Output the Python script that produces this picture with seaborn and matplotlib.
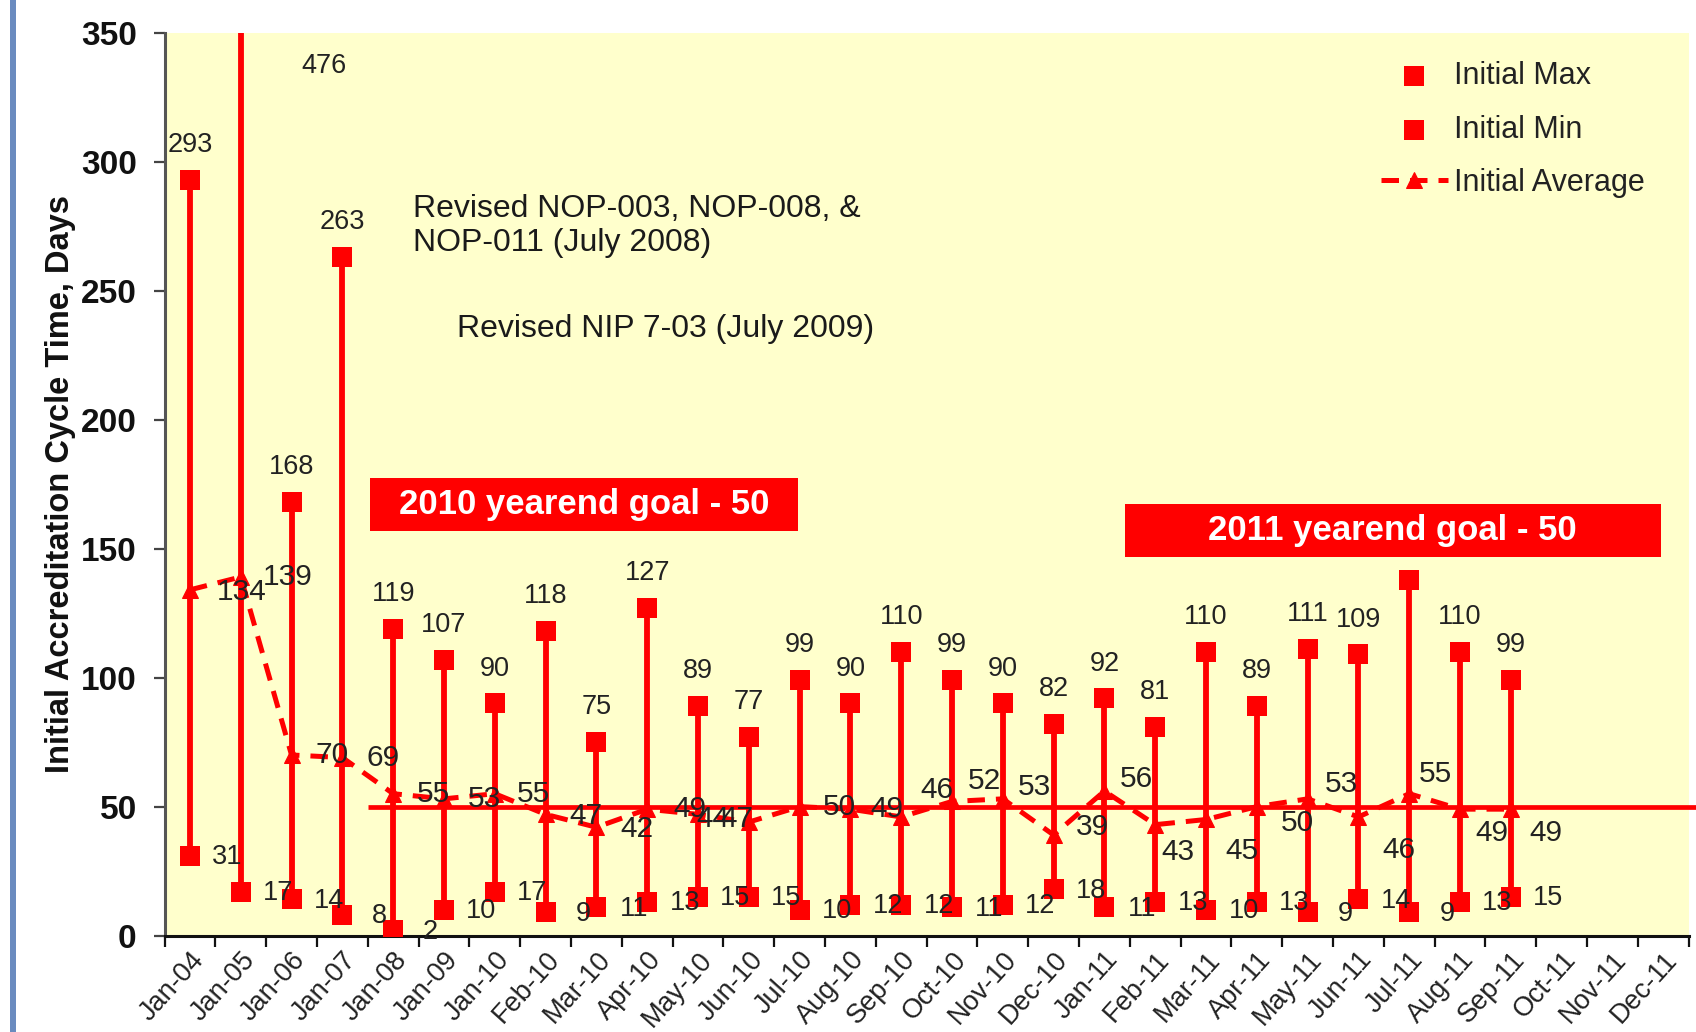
import numpy as np
import pandas as pd
import matplotlib
matplotlib.use("Agg")
import matplotlib.pyplot as plt
from matplotlib.patches import Rectangle
import seaborn as sns

# category axis (one slot per report period)
months = ["Jan-04", "Jan-05", "Jan-06", "Jan-07", "Jan-08", "Jan-09", "Jan-10",
          "Feb-10", "Mar-10", "Apr-10", "May-10", "Jun-10", "Jul-10", "Aug-10",
          "Sep-10", "Oct-10", "Nov-10", "Dec-10", "Jan-11", "Feb-11", "Mar-11",
          "Apr-11", "May-11", "Jun-11", "Jul-11", "Aug-11", "Sep-11", "Oct-11",
          "Nov-11", "Dec-11"]

# cycle time values, days
initial_max = [293, 476, 168, 263, 119, 107, 90, 118, 75, 127, 89, 77, 99, 90,
               110, 99, 90, 82, 92, 81, 110, 89, 111, 109, 138, 110, 99]
initial_min = [31, 17, 14, 8, 2, 10, 17, 9, 11, 13, 15, 15, 10, 12,
               12, 11, 12, 18, 11, 13, 10, 13, 9, 14, 9, 13, 15]
initial_avg = [134, 139, 70, 69, 55, 53, 55, 47, 42, 49, 47, 44, 50, 49,
               46, 52, 53, 39, 56, 43, 45, 50, 53, 46, 55, 49, 49]
goal = 50

# hand-nudged positions of the average labels (points)
avg_dx = [37, 34, 29, 29, 29, 29, 28, 29, 29, 31, 28, -26, 29, 26, 26, 23, 23, 28,
          23, 16, 26, 29, 24, 29, 19, 23, 25]
avg_dy = [-1.5, 0, 0, 0, 0, 0, 0, -1.5, -1.5, 0, -3, 2, 0, 0, 19.5, 15, 8.5, 5.5,
          8.5, -19.5, -22.6, -11.7, 11, -24, 14, -17, -17]

RED = "#ff0000"
Y_TOP = 350

df = pd.DataFrame({"pos": np.arange(len(initial_max)),
                   "max": initial_max, "min": initial_min, "avg": initial_avg})

sns.set_theme(style="ticks")
plt.rcParams["font.family"] = ["Liberation Sans", "DejaVu Sans"]

fig = plt.figure(figsize=(16.96, 10.32), dpi=100)
ax = fig.add_axes([0.097, 0.0934, 0.8987, 0.8751])
ax.set_facecolor("#ffffcc")

# high-low lines
ax.vlines(df["pos"], df["min"], df["max"], color=RED, lw=4.2, zorder=2)

# goal line from Jan-08 onwards
ax.hlines(goal, 3.5, len(months) - 0.35, color=RED, lw=3.4, zorder=2, clip_on=False)

sns.lineplot(data=df, x="pos", y="avg", ax=ax, color=RED, lw=3.6,
             linestyle=(0, (3.5, 2.2)), marker="^", markersize=12,
             markeredgecolor=RED, label="Initial Average", zorder=3)
sns.scatterplot(data=df, x="pos", y="max", ax=ax, color=RED, marker="s", s=200,
                edgecolor=RED, linewidth=0, label="Initial Max", zorder=4)
sns.scatterplot(data=df, x="pos", y="min", ax=ax, color=RED, marker="s", s=200,
                edgecolor=RED, linewidth=0, label="Initial Min", zorder=4)

lab = dict(fontsize=19.5, color="#222222", ha="center", va="center", zorder=5)
for i, v in enumerate(initial_max):
    if v > Y_TOP:
        ax.annotate(str(v), xy=(i, Y_TOP), xytext=(60, -24),
                    textcoords="offset points", **lab)
    else:
        ax.annotate(str(v), xy=(i, v), xytext=(0, 25),
                    textcoords="offset points", **lab)
for i, v in enumerate(initial_min):
    ax.annotate(str(v), xy=(i, v), xytext=(27, -1),
                textcoords="offset points", **lab)
for i, v in enumerate(initial_avg):
    ax.annotate(str(v), xy=(i, v), xytext=(avg_dx[i], avg_dy[i]),
                textcoords="offset points", **{**lab, "fontsize": 21.5})

# goal boxes
for (x0, x1, y0, y1, txt) in [(3.55, 11.97, 157, 177.4, "2010 yearend goal - 50"),
                              (18.4, 28.95, 146.9, 167.3, "2011 yearend goal - 50")]:
    ax.add_patch(Rectangle((x0, y0), x1 - x0, y1 - y0, facecolor=RED,
                           edgecolor="none", zorder=6))
    ax.text((x0 + x1) / 2, (y0 + y1) / 2, txt, color="white", fontsize=25,
            fontweight="bold", ha="center", va="center", zorder=7)

note = dict(fontsize=23, color="#1a1a1a", ha="left", va="center", zorder=5)
ax.text(4.39, 275, "Revised NOP-003, NOP-008, &\nNOP-011 (July 2008)",
        linespacing=1.15, **note)
ax.text(5.26, 235, "Revised NIP 7-03 (July 2009)", **note)

# axes
ax.set_xlim(-0.5, len(months) - 0.5)
ax.set_ylim(0, Y_TOP)
ax.set_xticks(np.arange(len(months)))
ax.set_xticklabels(months, rotation=48, ha="right", rotation_mode="anchor",
                   fontsize=19.5, color="#222222")
ax.set_xticks(np.arange(len(months) + 1) - 0.5, minor=True)
ax.tick_params(axis="x", which="major", length=0, pad=8)
ax.tick_params(axis="x", which="minor", length=8, width=1.6, color="#111111",
               direction="out")
ax.set_yticks(np.arange(0, Y_TOP + 1, 50))
ax.tick_params(axis="y", length=8, width=1.6, color="#444444", pad=12)
for t in ax.get_yticklabels():
    t.set_fontsize(24)
    t.set_fontweight("bold")
    t.set_color("#111111")
ax.set_xlabel("")
ax.set_ylabel("Initial Accreditation Cycle Time, Days", fontsize=23.5,
              fontweight="bold", color="#111111")
ax.yaxis.set_label_coords(-0.058, 0.5)
for side in ["top", "right"]:
    ax.spines[side].set_visible(False)
ax.spines["left"].set_color("#555555")
ax.spines["left"].set_linewidth(2.2)
ax.spines["bottom"].set_color("#111111")
ax.spines["bottom"].set_linewidth(2.2)

handles, labels = ax.get_legend_handles_labels()
order = [labels.index(n) for n in ["Initial Max", "Initial Min", "Initial Average"]]
ax.legend([handles[k] for k in order], [labels[k] for k in order],
          loc="upper left", bbox_to_anchor=(0.788, 0.985), frameon=False,
          fontsize=22, borderpad=0, handlelength=2.2, handletextpad=0.2,
          labelspacing=0.76, labelcolor="#222222")

# slide border on the left
fig.patches.append(Rectangle((10 / 1696, 0), 6 / 1696, 1, transform=fig.transFigure,
                             facecolor="#6a8bbf", edgecolor="none"))

fig.savefig("out.png", dpi=100)
